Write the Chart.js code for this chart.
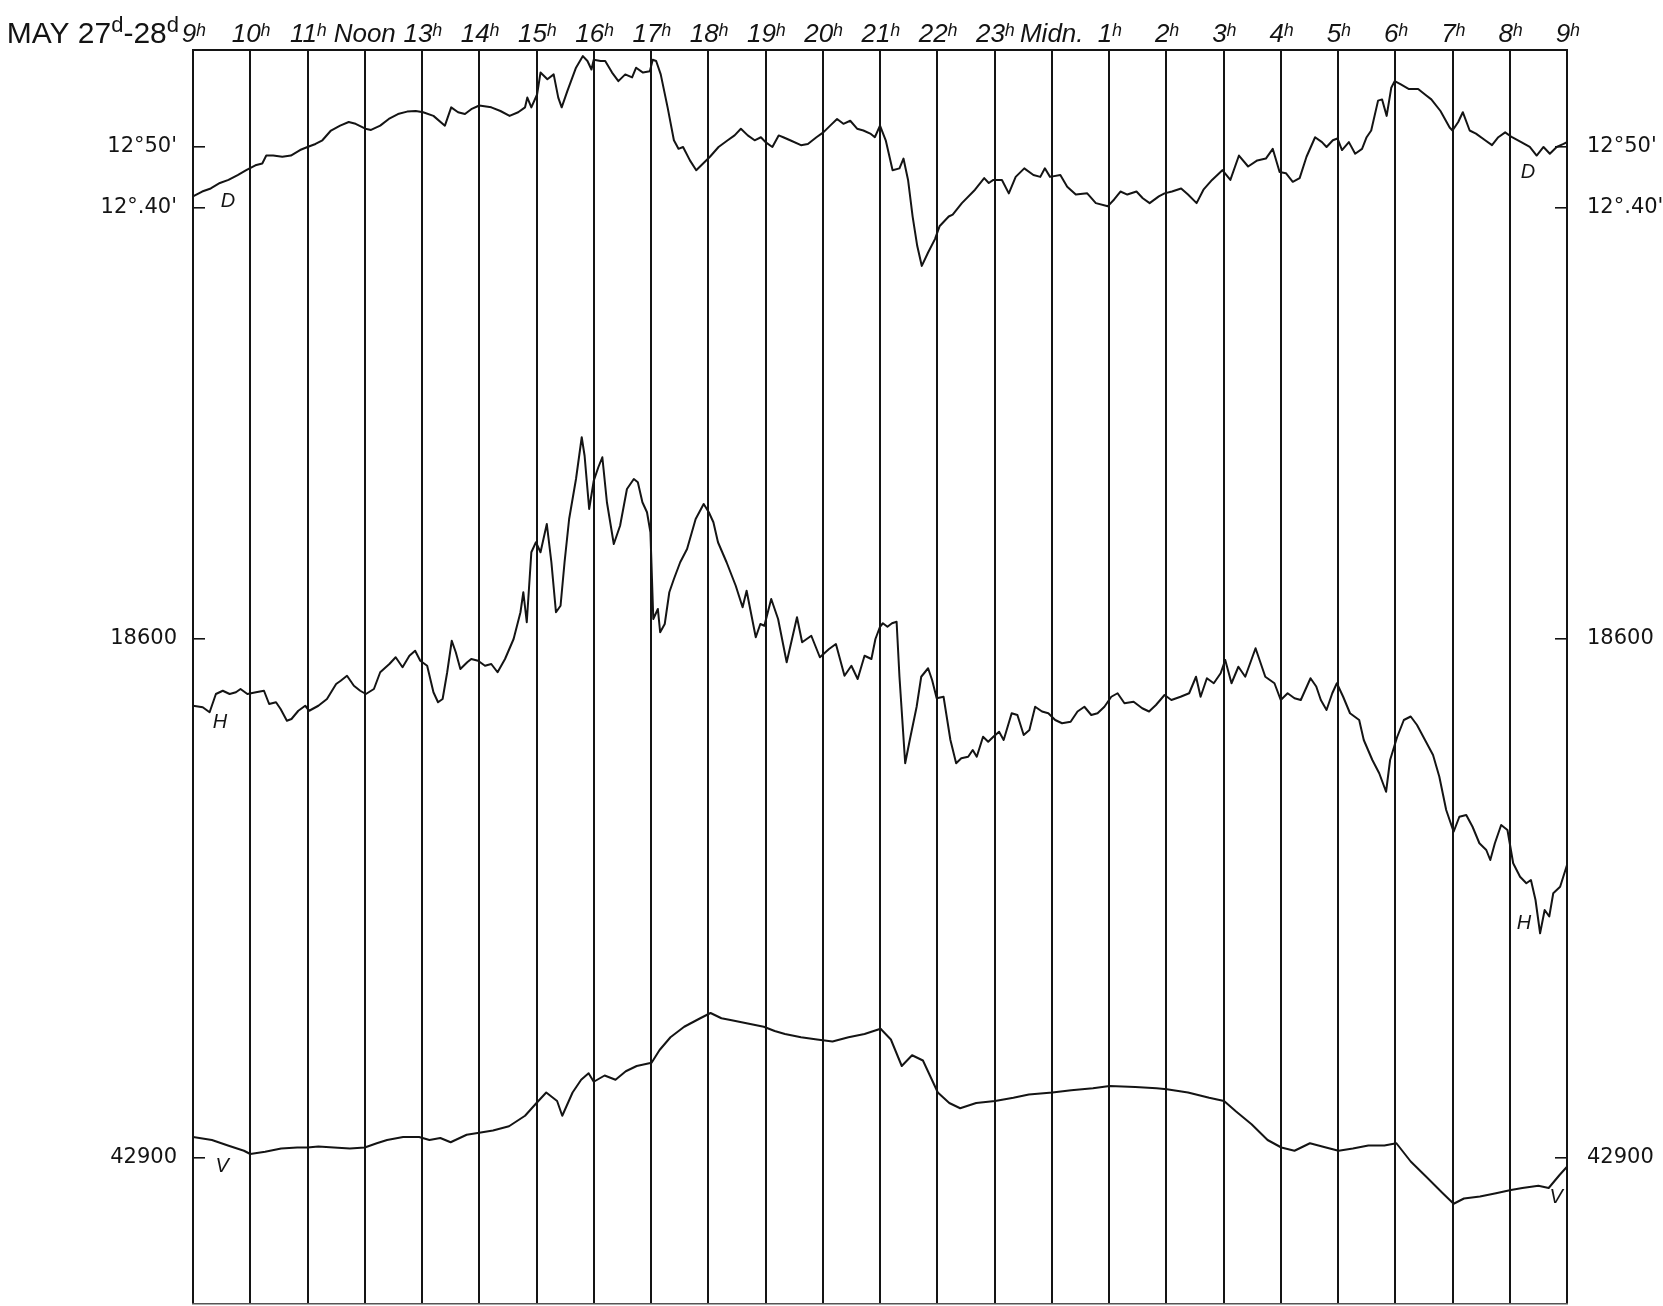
<!DOCTYPE html>
<html>
<head>
<meta charset="utf-8">
<script src="https://cdn.jsdelivr.net/npm/chart.js@4.4.1/dist/chart.umd.min.js"></script>
<style>
html,body{margin:0;padding:0;background:#fff;overflow:hidden;}
canvas{display:block;}
</style>
</head>
<body>
<canvas id="c" width="1663" height="1306"></canvas>
<script>
// ---------- tick labels ----------
const HOUR_LABELS = ['9ʰ','10ʰ','11ʰ','Noon','13ʰ','14ʰ','15ʰ','16ʰ','17ʰ','18ʰ','19ʰ','20ʰ','21ʰ','22ʰ','23ʰ','Midn.','1ʰ','2ʰ','3ʰ','4ʰ','5ʰ','6ʰ','7ʰ','8ʰ','9ʰ'];
const D_TICKS = [50, 40];          // minutes of arc past 12°
const D_TICK_LABELS = ["12°50'", "12°.40'"];
const H_TICKS = [18600];
const V_TICKS = [42900];

// ---------- D : declination, minutes of arc past 12° ----------
const D_HOURS = [
  0,0.16,0.31,0.47,0.62,0.78,0.93,1.09,1.21,1.28,
  1.40,1.56,1.71,1.87,2.00,2.14,2.26,2.41,2.57,2.72,
  2.84,3.01,3.11,3.27,3.42,3.58,3.74,3.89,4.02,4.20,
  4.40,4.51,4.63,4.75,4.86,5.00,5.21,5.37,5.53,5.68,
  5.80,5.84,5.91,6.01,6.07,6.19,6.30,6.38,6.44,6.54,
  6.69,6.81,6.89,6.96,7.00,7.12,7.20,7.32,7.43,7.55,
  7.67,7.74,7.86,7.98,8.03,8.09,8.17,8.29,8.40,8.48,
  8.56,8.68,8.79,8.91,9.03,9.18,9.34,9.46,9.57,9.69,
  9.81,9.92,10.00,10.12,10.23,10.31,10.43,10.62,10.74,10.89,
  11.01,11.13,11.25,11.36,11.48,11.60,11.71,11.83,11.91,12.00,
  12.10,12.22,12.34,12.41,12.49,12.57,12.65,12.73,12.84,12.96,
  13.04,13.20,13.27,13.43,13.66,13.82,13.90,13.98,14.13,14.25,
  14.37,14.52,14.68,14.80,14.88,14.97,15.15,15.27,15.42,15.62,
  15.77,15.98,16.09,16.20,16.32,16.48,16.59,16.71,16.87,16.97,
  17.10,17.26,17.38,17.53,17.65,17.80,17.98,18.12,18.27,18.43,
  18.59,18.74,18.86,18.98,19.09,19.21,19.33,19.45,19.60,19.72,
  19.80,19.91,19.99,20.07,20.19,20.30,20.42,20.50,20.58,20.70,
  20.77,20.85,20.93,20.99,21.09,21.24,21.40,21.52,21.63,21.79,
  21.95,22.00,22.10,22.18,22.30,22.41,22.57,22.69,22.80,22.92,
  23.04,23.20,23.35,23.47,23.59,23.70,23.82,23.94,24.00
];
const D_MINUTES = [
  41.9,42.7,43.2,44.1,44.6,45.4,46.2,47.0,47.3,48.6,
  48.6,48.4,48.6,49.5,50.0,50.5,51.1,52.7,53.5,54.1,
  53.8,53.0,52.8,53.5,54.6,55.4,55.8,55.9,55.7,55.1,
  53.5,56.5,55.7,55.4,56.2,56.8,56.5,55.9,55.1,55.7,
  56.5,58.1,56.5,58.6,62.2,61.1,61.9,58.1,56.5,59.2,
  63.0,64.9,64.1,62.7,64.3,64.1,64.1,62.2,60.8,61.9,
  61.4,63.0,62.2,62.4,64.3,64.1,61.9,56.5,51.1,49.7,
  50.0,47.8,46.2,47.3,48.4,50.0,51.1,51.9,53.0,51.9,
  51.1,51.6,50.8,50.0,51.9,51.6,51.1,50.3,50.5,51.6,
  52.4,53.5,54.6,53.8,54.3,53.0,52.7,52.2,51.6,53.5,
  51.1,46.2,46.5,48.1,44.6,38.6,33.8,30.5,32.7,34.9,
  37.0,38.6,38.9,40.8,43.0,44.9,44.1,44.6,44.6,42.4,
  45.1,46.5,45.4,45.1,46.5,45.1,45.4,43.5,42.2,42.4,
  40.8,40.3,41.4,42.7,42.2,42.7,41.6,40.8,41.9,42.4,
  42.7,43.2,42.2,40.8,43.0,44.6,46.2,44.6,48.6,46.8,
  47.8,48.1,49.7,45.9,45.7,44.3,44.9,48.4,51.6,50.8,
  50.0,51.1,51.4,49.5,50.8,48.9,49.7,51.6,52.7,57.6,
  57.8,55.1,59.7,60.8,60.3,59.5,59.5,58.6,57.8,55.9,
  53.2,52.7,54.1,55.7,52.7,52.2,51.1,50.3,51.6,52.4,
  51.6,50.8,50.0,48.6,50.0,48.9,50.0,50.5,50.8
];

// ---------- H : horizontal intensity (gammas) ----------
const H_HOURS = [
  0,0.17,0.29,0.40,0.52,0.64,0.75,0.83,0.95,1.10,
  1.24,1.33,1.45,1.53,1.64,1.72,1.84,1.96,2.03,2.19,
  2.34,2.50,2.58,2.69,2.81,2.92,3.02,3.16,3.27,3.43,
  3.54,3.66,3.78,3.88,3.97,4.09,4.20,4.28,4.36,4.44,
  4.52,4.59,4.67,4.79,4.86,4.98,5.10,5.21,5.32,5.45,
  5.60,5.72,5.77,5.83,5.91,5.99,6.07,6.18,6.26,6.34,
  6.42,6.49,6.57,6.69,6.79,6.84,6.92,7.00,7.08,7.15,
  7.23,7.35,7.46,7.58,7.70,7.77,7.85,7.93,7.99,8.04,
  8.12,8.16,8.24,8.32,8.40,8.51,8.63,8.78,8.92,9.01,
  9.09,9.17,9.32,9.48,9.60,9.67,9.83,9.91,9.98,10.10,
  10.22,10.37,10.55,10.64,10.80,10.95,11.11,11.23,11.38,11.50,
  11.61,11.73,11.85,11.92,12.00,12.05,12.13,12.21,12.29,12.34,
  12.44,12.52,12.64,12.72,12.84,12.91,12.99,13.11,13.23,13.33,
  13.42,13.54,13.62,13.69,13.80,13.89,13.98,14.08,14.16,14.30,
  14.40,14.51,14.61,14.71,14.83,14.94,15.06,15.18,15.33,15.45,
  15.57,15.69,15.80,15.92,16.04,16.15,16.27,16.43,16.58,16.70,
  16.82,16.97,17.09,17.25,17.40,17.52,17.60,17.71,17.83,17.95,
  18.03,18.14,18.26,18.38,18.56,18.73,18.89,19.00,19.12,19.24,
  19.35,19.52,19.62,19.70,19.80,19.90,19.98,20.09,20.21,20.37,
  20.45,20.60,20.72,20.84,20.91,21.03,21.15,21.27,21.38,21.52,
  21.66,21.77,21.89,22.02,22.12,22.24,22.35,22.47,22.59,22.66,
  22.74,22.85,22.96,23.06,23.18,23.29,23.37,23.45,23.53,23.61,
  23.69,23.76,23.88,24.00
];
const H_GAMMAS = [
  18573.3,18572.7,18570.7,18578.0,18579.3,18578.0,18578.7,18580.0,18578.0,18578.7,
  18579.3,18574.0,18574.7,18572.0,18567.3,18568.0,18571.3,18573.3,18571.3,18573.3,
  18576.0,18582.0,18583.3,18585.3,18581.3,18579.3,18578.0,18580.0,18586.7,18590.0,
  18592.7,18588.7,18593.3,18595.3,18591.3,18589.3,18578.7,18574.7,18576.0,18586.7,
  18599.3,18594.7,18588.0,18590.7,18592.0,18591.3,18589.3,18590.0,18586.7,18592.0,
  18600.0,18610.7,18618.7,18606.7,18634.7,18638.7,18634.7,18646.0,18630.7,18610.7,
  18613.3,18630.7,18648.0,18664.0,18680.7,18673.3,18652.0,18663.3,18668.7,18672.7,
  18654.7,18638.0,18645.3,18660.0,18664.0,18662.7,18654.7,18650.7,18642.7,18608.0,
  18612.0,18602.7,18606.0,18618.7,18624.0,18630.7,18636.0,18648.0,18654.0,18650.7,
  18646.7,18638.7,18630.7,18621.3,18612.7,18619.3,18600.7,18606.0,18605.3,18616.0,
  18608.0,18590.7,18608.7,18598.7,18601.3,18592.7,18596.0,18598.0,18585.3,18589.3,
  18584.0,18593.3,18592.0,18600.0,18604.9,18606.3,18604.9,18606.3,18606.9,18584.9,
  18550.3,18559.6,18572.9,18584.9,18588.3,18583.6,18576.3,18576.9,18559.6,18550.3,
  18552.3,18552.9,18555.6,18552.9,18560.9,18558.9,18560.9,18562.9,18559.6,18570.3,
  18569.6,18561.6,18563.6,18572.9,18571.0,18570.3,18567.6,18566.3,18566.9,18571.0,
  18572.9,18569.6,18570.3,18572.9,18576.9,18578.3,18574.3,18574.9,18572.3,18571.0,
  18573.6,18577.6,18575.6,18576.9,18578.3,18584.9,18576.9,18584.3,18582.3,18586.3,
  18591.6,18582.3,18588.9,18584.9,18596.3,18584.9,18582.3,18575.6,18578.3,18576.3,
  18575.6,18584.3,18581.0,18575.6,18571.6,18578.3,18582.3,18576.9,18570.3,18567.6,
  18559.6,18551.6,18546.3,18538.9,18551.6,18560.6,18567.6,18569.0,18565.6,18559.6,
  18553.6,18544.9,18531.6,18522.9,18528.9,18529.6,18524.9,18518.3,18515.6,18511.6,
  18518.3,18525.6,18523.6,18510.3,18504.9,18502.3,18503.6,18495.6,18482.3,18491.6,
  18489.0,18498.3,18500.9,18509.6
];

// ---------- V : vertical intensity (gammas) ----------
const V_HOURS = [
  0,0.33,0.61,0.89,1.00,1.26,1.54,1.82,2.00,2.19,
  2.46,2.74,3.00,3.21,3.39,3.67,3.95,4.13,4.32,4.50,
  4.78,5.00,5.24,5.52,5.80,6.00,6.17,6.36,6.45,6.63,
  6.78,6.91,7.00,7.19,7.38,7.56,7.75,8.01,8.15,8.34,
  8.58,8.86,9.04,9.23,9.41,9.69,9.97,10.16,10.34,10.62,
  10.90,11.17,11.45,11.73,12.01,12.19,12.38,12.56,12.75,13.01,
  13.21,13.40,13.68,14.01,14.33,14.60,15.01,15.34,15.72,16.01,
  16.46,16.83,17.01,17.38,17.75,18.01,18.22,18.49,18.77,19.01,
  19.24,19.51,19.79,20.01,20.26,20.53,20.81,21.02,21.27,21.55,
  21.83,22.02,22.20,22.48,22.76,23.02,23.22,23.50,23.68,23.87,
  24.00
];
const V_GAMMAS = [
  42908.4,42907.2,42905.0,42902.9,42901.6,42902.5,42903.8,42904.2,42904.2,42904.6,
  42904.2,42903.8,42904.2,42905.9,42907.2,42908.4,42908.4,42907.2,42908.0,42906.3,
  42909.3,42910.1,42911.0,42912.7,42916.9,42922.0,42926.2,42922.8,42916.9,42926.2,
  42931.3,42933.9,42930.5,42933.0,42931.3,42934.7,42936.8,42938.1,42943.2,42948.3,
  42952.5,42955.9,42958.0,42955.9,42955.1,42953.8,42952.5,42950.8,42949.6,42948.3,
  42947.4,42946.6,42948.3,42949.6,42951.7,42947.4,42936.8,42941.1,42939.0,42926.2,
  42922.0,42919.9,42922.0,42922.8,42924.1,42925.4,42926.2,42927.1,42927.9,42928.8,
  42928.4,42927.9,42927.5,42926.2,42924.1,42922.8,42918.6,42913.5,42907.2,42904.2,
  42902.9,42905.9,42904.2,42902.9,42903.8,42905.0,42905.0,42905.9,42898.6,42892.3,
  42885.9,42881.7,42883.8,42884.6,42885.9,42887.2,42888.0,42888.9,42888.0,42893.2,
  42896.5
];

// curve letters, placed in data units of each curve
const CURVE_LETTERS = [
  {text:'D', axis:'yD', hour:0.61,  value:41.0},
  {text:'D', axis:'yD', hour:23.32, value:45.9},
  {text:'H', axis:'yH', hour:0.47,  value:18566.8},
  {text:'H', axis:'yH', hour:23.25, value:18486.4},
  {text:'V', axis:'yV', hour:0.51,  value:42896.8},
  {text:'V', axis:'yV', hour:23.81, value:42884.4}
];

// vertical ranges of each element's scale (the full height of the sheet)
const D_RANGE = {min:-139.67, max:65.90};
const H_RANGE = {min:18334.0, max:18835.6};
const V_RANGE = {min:42841.6, max:43343.2};

const INK = '#141414';
const SANS = '"Liberation Sans","DejaVu Sans",sans-serif';
const LABEL_FONT = {family:'"DejaVu Sans",sans-serif', size:21};

function pts(xs, ys){ return xs.map((x,i)=>({x:x, y:ys[i]})); }

function sideAxis(pos, range, ticks, fmt){
  return {
    type:'linear', position:pos, min:range.min, max:range.max,
    afterFit: s => { s.width = 0; s.paddingTop = 0; s.paddingBottom = 0; },
    afterBuildTicks: s => { s.ticks = ticks.map(v => ({value:v})); },
    border:{display:false},
    grid:{drawOnChartArea:false, drawTicks:true, tickLength:-12, color:INK, lineWidth:1.6},
    ticks:{padding: pos==='left' ? 28 : 32, color:INK, font:LABEL_FONT, callback: fmt}
  };
}
const dFmt = v => D_TICK_LABELS[D_TICKS.indexOf(v)];
const nFmt = v => String(v);

// side axes have zero width; widen their label clip area to the page edge
const sideLabelPlugin = {
  id:'sideLabels',
  afterLayout(chart){
    Object.values(chart.scales).forEach(s => {
      if (s.axis !== 'y') return;
      if (s.options.position === 'left') s.left = 0;
      else if (s.options.position === 'right') s.right = chart.width;
    });
  }
};

const decorPlugin = {
  id:'decor',
  afterDraw(chart){
    const ctx = chart.ctx;
    ctx.save();
    ctx.fillStyle = INK;
    // header
    const parts = [
      ['MAY 27', '30px ' + SANS, 0],
      ['d', '22px ' + SANS, -11],
      ['-28', '30px ' + SANS, 0],
      ['d', '22px ' + SANS, -11]
    ];
    let total = 0;
    parts.forEach(p => { ctx.font = p[1]; total += ctx.measureText(p[0]).width; });
    let x = chart.chartArea.left - 14 - total;
    ctx.textBaseline = 'alphabetic';
    ctx.textAlign = 'left';
    parts.forEach(p => { ctx.font = p[1]; ctx.fillText(p[0], x, 43 + p[2]); x += ctx.measureText(p[0]).width; });
    // curve letters
    ctx.font = 'italic 20px ' + SANS;
    ctx.textAlign = 'center';
    ctx.textBaseline = 'middle';
    CURVE_LETTERS.forEach(l => {
      const px = chart.scales.x.getPixelForValue(l.hour);
      const py = chart.scales[l.axis].getPixelForValue(l.value);
      ctx.fillText(l.text, px, py);
    });
    ctx.restore();
  }
};

const lineStyle = {borderColor:INK, borderWidth:2, pointRadius:0, tension:0, fill:false, borderJoinStyle:'round'};

new Chart(document.getElementById('c'), {
  type:'line',
  data:{
    datasets:[
      Object.assign({label:'D', data:pts(D_HOURS, D_MINUTES), yAxisID:'yD'}, lineStyle),
      Object.assign({label:'H', data:pts(H_HOURS, H_GAMMAS), yAxisID:'yH'}, lineStyle),
      Object.assign({label:'V', data:pts(V_HOURS, V_GAMMAS), yAxisID:'yV'}, lineStyle)
    ]
  },
  options:{
    responsive:false,
    animation:false,
    devicePixelRatio:1,
    layout:{padding:{left:193, right:96, top:0, bottom:2}},
    plugins:{legend:{display:false}, tooltip:{enabled:false}, title:{display:false}},
    scales:{
      x:{
        type:'linear', position:'top', min:0, max:24,
        afterFit: s => { s.height = 50; s.paddingLeft = 0; s.paddingRight = 0; },
        afterBuildTicks: s => { s.ticks = HOUR_LABELS.map((_, i) => ({value:i})); },
        grid:{drawOnChartArea:true, drawTicks:false, color:INK, lineWidth:2},
        border:{display:true, color:INK, width:2},
        ticks:{autoSkip:false, maxRotation:0, minRotation:0, padding:0, color:INK,
          font:{family:SANS, size:26, style:'italic'},
          callback: v => HOUR_LABELS[v]}
      },
      xb:{
        type:'linear', position:'bottom', min:0, max:24,
        afterFit: s => { s.height = 0; s.paddingLeft = 0; s.paddingRight = 0; },
        grid:{display:false},
        border:{display:true, color:'#555', width:1.5},
        ticks:{display:false}
      },
      yD: sideAxis('left', D_RANGE, D_TICKS, dFmt),
      yH: sideAxis('left', H_RANGE, H_TICKS, nFmt),
      yV: sideAxis('left', V_RANGE, V_TICKS, nFmt),
      yD2: sideAxis('right', D_RANGE, D_TICKS, dFmt),
      yH2: sideAxis('right', H_RANGE, H_TICKS, nFmt),
      yV2: sideAxis('right', V_RANGE, V_TICKS, nFmt)
    }
  },
  plugins:[sideLabelPlugin, decorPlugin]
});
</script>
</body>
</html>
